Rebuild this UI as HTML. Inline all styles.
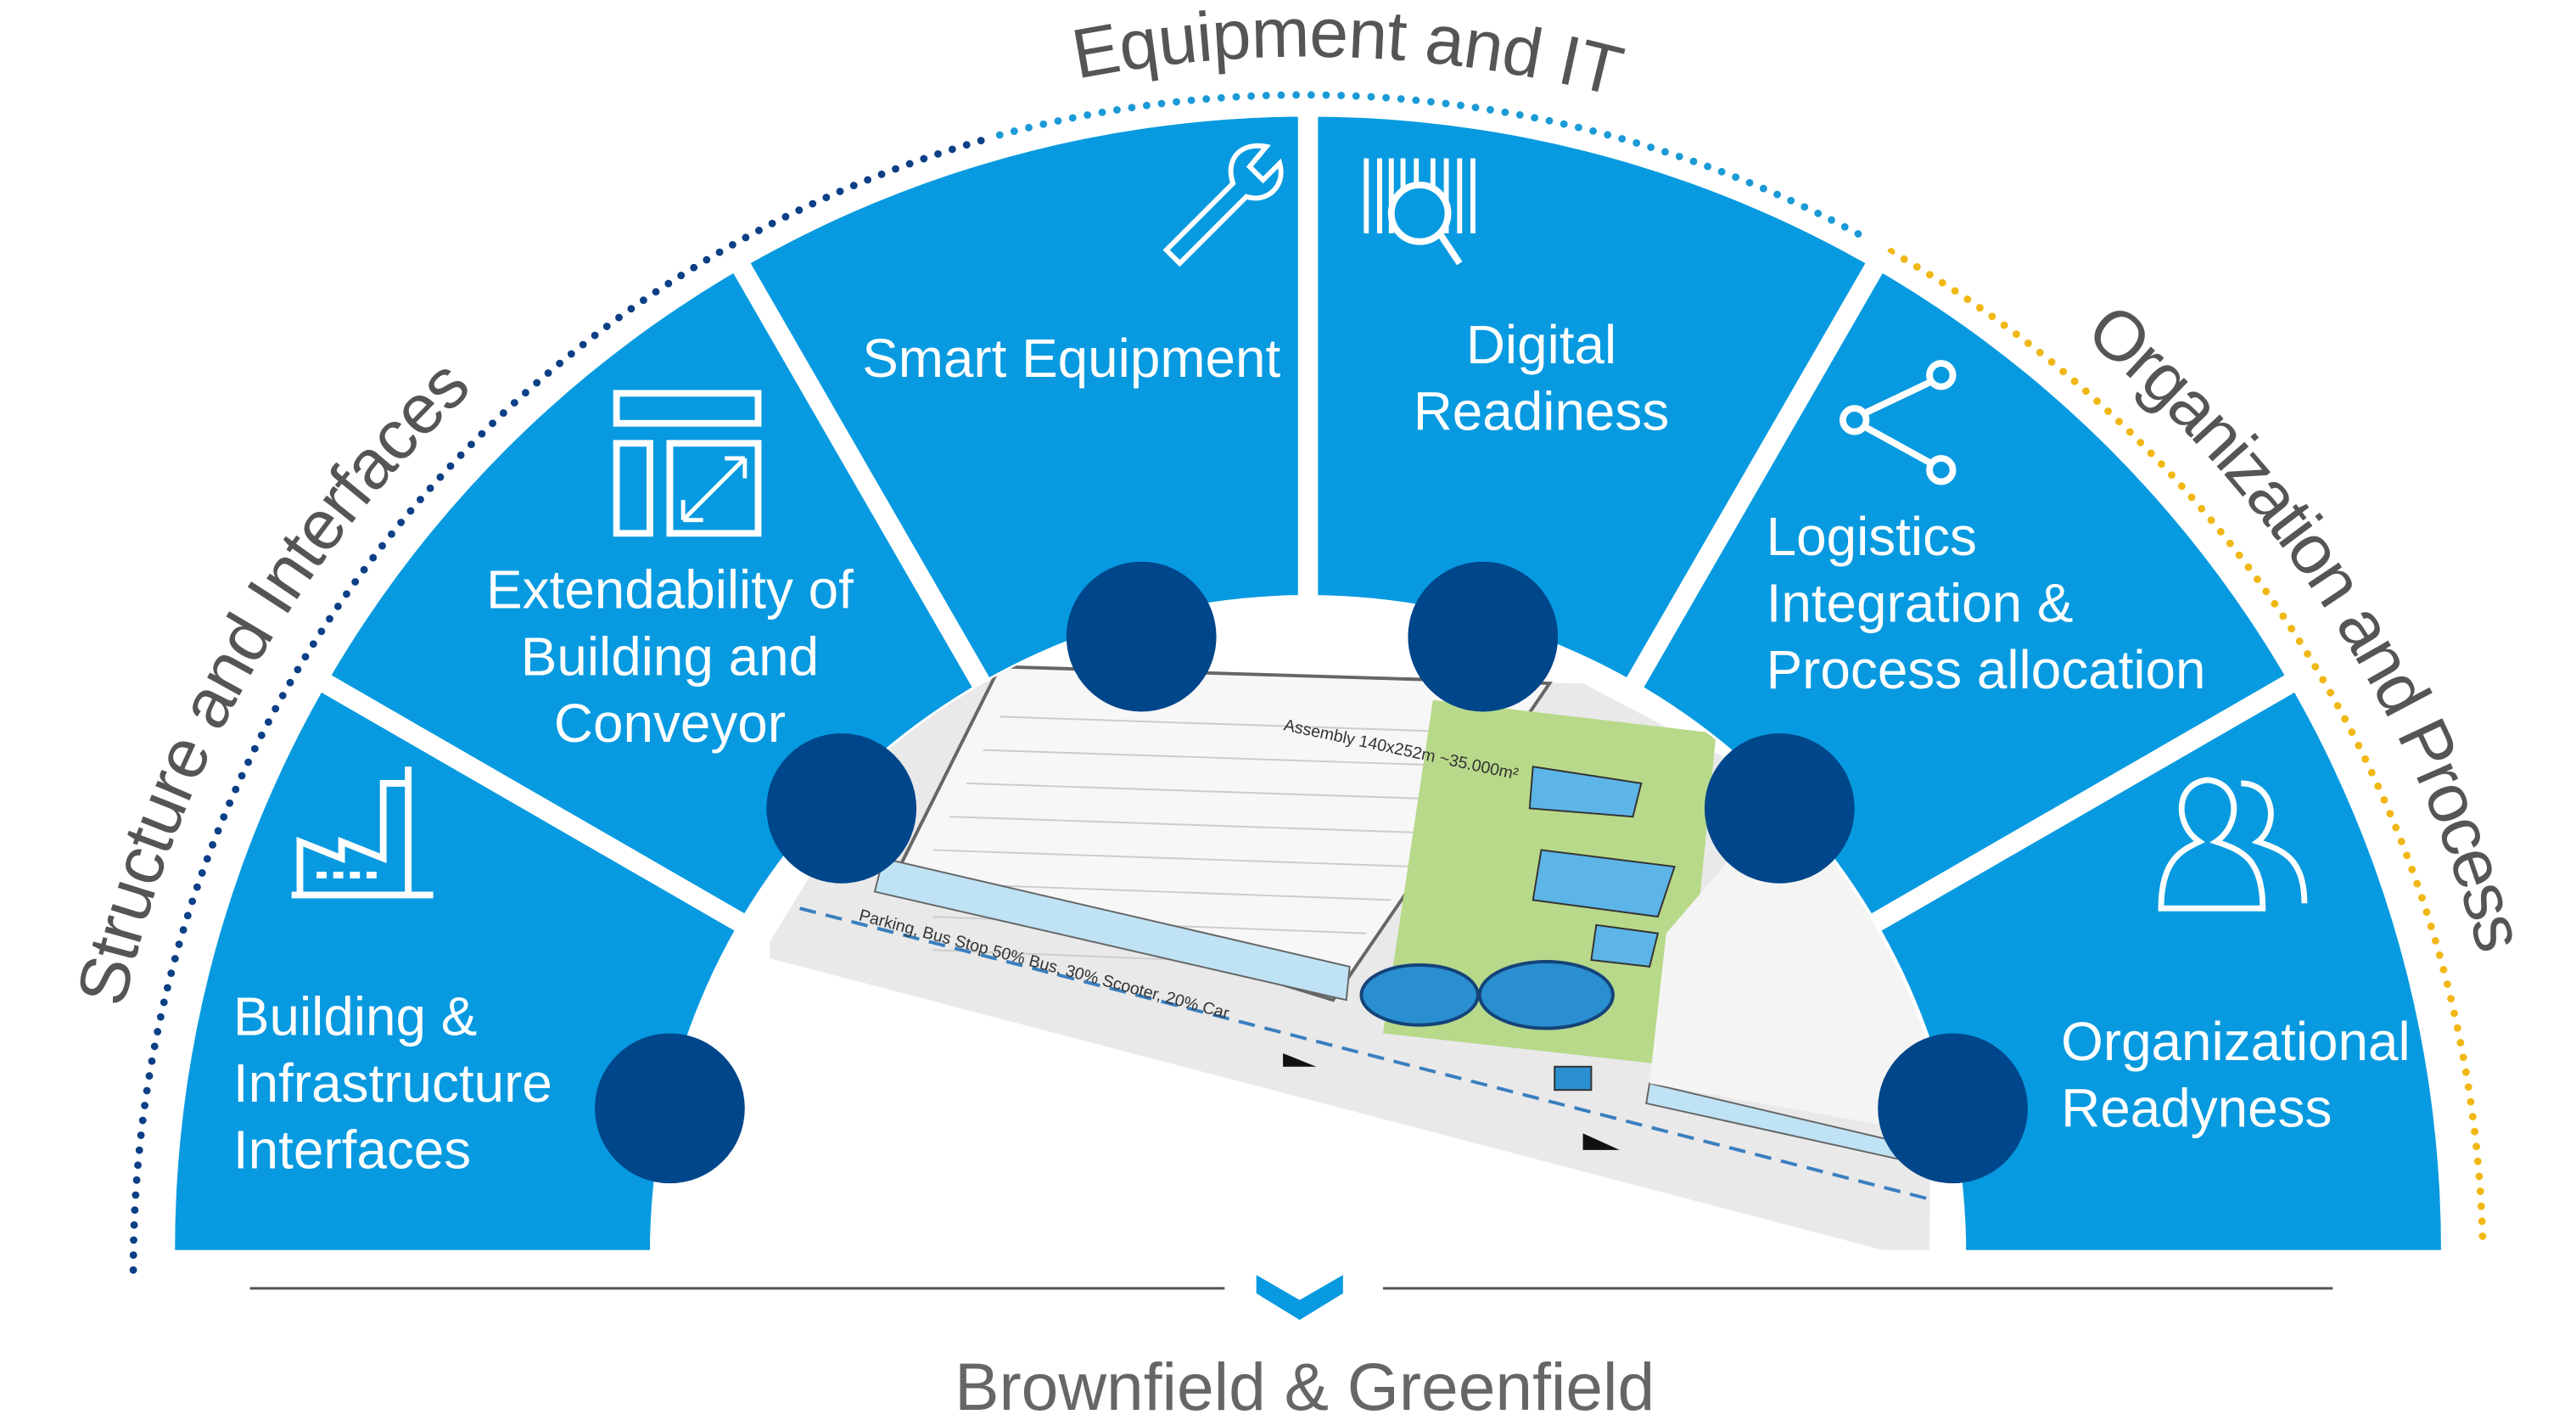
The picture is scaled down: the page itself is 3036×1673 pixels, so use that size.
<!DOCTYPE html>
<html><head><meta charset="utf-8"><style>html,body{margin:0;padding:0;background:#fff}svg{display:block}</style></head>
<body>
<svg width="3036" height="1673" viewBox="0 0 1546 852" preserveAspectRatio="none" xmlns="http://www.w3.org/2000/svg" font-family="Liberation Sans, sans-serif">
<defs>
<clipPath id="inner"><path d="M393 750 A392 392 0 0 1 1177 750 Z"/></clipPath>
<path id="tp" d="M57 762 A728 728 0 0 1 1513 762"/>
</defs>
<path d="M80 762 A705 705 0 0 1 590 84" fill="none" stroke="#0b3f86" stroke-width="4.5" stroke-linecap="round" stroke-dasharray="0 9"/>
<path d="M600 81 A705 705 0 0 1 1122 144" fill="none" stroke="#1a9ad6" stroke-width="4.5" stroke-linecap="round" stroke-dasharray="0 9"/>
<path d="M1135 151 A705 705 0 0 1 1490 745" fill="none" stroke="#f1b715" stroke-width="4.5" stroke-linecap="round" stroke-dasharray="0 9"/>
<text font-size="42" fill="#555"><textPath href="#tp" startOffset="158" textLength="433" lengthAdjust="spacing">Structure and Interfaces</textPath></text>
<text font-size="42" fill="#555"><textPath href="#tp" startOffset="1004" textLength="326" lengthAdjust="spacing">Equipment and IT</textPath></text>
<text font-size="42" fill="#555"><textPath href="#tp" startOffset="1648" textLength="448" lengthAdjust="spacing">Organization and Process</textPath></text>
<path d="M105 750 A680 680 0 0 1 1465 750 Z" fill="#079ae0"/>
<g stroke="#fff" stroke-width="12">
<line x1="785" y1="750" x2="185" y2="404"/>
<line x1="785" y1="750" x2="439" y2="150"/>
<line x1="785" y1="750" x2="785" y2="62"/>
<line x1="785" y1="750" x2="1131" y2="150"/>
<line x1="785" y1="750" x2="1385" y2="404"/>
</g>
<path d="M390 752 A395 395 0 0 1 1180 752 Z" fill="#fff"/>
<g clip-path="url(#inner)">
<polygon points="462,565 560,405 950,410 1160,520 1158,750 1130,750 462,575" fill="#e9e9e9"/>
<polygon points="540,520 600,400 930,410 800,600" fill="#f7f7f7" stroke="#666" stroke-width="2"/>
<g stroke="#ccc" stroke-width="1">
<line x1="600" y1="430" x2="900" y2="440"/><line x1="590" y1="450" x2="890" y2="460"/><line x1="580" y1="470" x2="880" y2="480"/><line x1="570" y1="490" x2="865" y2="500"/><line x1="560" y1="510" x2="850" y2="520"/><line x1="560" y1="530" x2="835" y2="540"/><line x1="560" y1="550" x2="820" y2="560"/><line x1="560" y1="570" x2="810" y2="580"/>
</g>
<polygon points="530,515 810,580 808,600 525,535" fill="#bfe3f5" stroke="#666"/>
<polygon points="860,420 1030,440 1010,640 830,620" fill="#b8d98a"/>
<polygon points="920,460 985,470 980,490 918,485" fill="#5db4e6" stroke="#333"/>
<polygon points="925,510 1005,520 995,550 920,540" fill="#5db4e6" stroke="#333"/>
<polygon points="958,555 995,560 990,580 955,576" fill="#5db4e6" stroke="#333"/>
<ellipse cx="852" cy="597" rx="35" ry="18" fill="#2a8fd0" stroke="#14437a" stroke-width="2"/>
<ellipse cx="928" cy="597" rx="40" ry="20" fill="#2a8fd0" stroke="#14437a" stroke-width="2"/>
<rect x="933" y="640" width="22" height="14" fill="#2a8fd0" stroke="#333"/>
<polygon points="990,650 1160,690 1160,700 988,662" fill="#bfe3f5" stroke="#666"/>
<polygon points="1000,560 1060,490 1160,520 1158,680 990,650" fill="#f4f4f4"/>
<line x1="480" y1="545" x2="1160" y2="720" stroke="#3a7fc0" stroke-width="2" stroke-dasharray="10 6"/>
<polygon points="770,632 790,640 770,640" fill="#111"/><polygon points="950,680 972,690 950,690" fill="#111"/>
<text x="770" y="438" font-size="10" fill="#333" transform="rotate(12 770 438)">Assembly 140x252m ~35.000m²</text>
<text x="515" y="552" font-size="10" fill="#333" transform="rotate(15 515 552)">Parking, Bus Stop 50% Bus, 30% Scooter, 20% Car</text>
</g>
<g fill="#00468b"><circle cx="402" cy="665" r="45"/><circle cx="505" cy="485" r="45"/><circle cx="685" cy="382" r="45"/><circle cx="890" cy="382" r="45"/><circle cx="1068" cy="485" r="45"/><circle cx="1172" cy="665" r="45"/></g>
<g fill="#fff" font-size="32.5">
<text x="643" y="226" text-anchor="middle">Smart Equipment</text>
<text x="925" y="218" text-anchor="middle">Digital</text><text x="925" y="258" text-anchor="middle">Readiness</text>
<text x="402" y="365" text-anchor="middle">Extendability of</text><text x="402" y="405" text-anchor="middle">Building and</text><text x="402" y="445" text-anchor="middle">Conveyor</text>
<text x="1060" y="333">Logistics</text><text x="1060" y="373">Integration &amp;</text><text x="1060" y="413">Process allocation</text>
<text x="140" y="621">Building &amp;</text><text x="140" y="661">Infrastructure</text><text x="140" y="701">Interfaces</text>
<text x="1237" y="636">Organizational</text><text x="1237" y="676">Readyness</text>
</g>
<g fill="none" stroke="#fff" stroke-width="4">
<path d="M175 537 L260 537 M180 537 L180 505 L205 515 L205 505 L230 515 L230 470 L245 470 L245 460 L245 537"/>
<path d="M190 525 h40" stroke-dasharray="6 4"/>
<rect x="370" y="236" width="85" height="18"/><rect x="370" y="266" width="20" height="54"/><rect x="402" y="266" width="53" height="54"/>
<path d="M410 312 L447 275 M447 275 h-12 M447 275 v12 M410 312 h12 M410 312 v-12" stroke-width="2.5"/>
<path d="M700 150 L740 110 C735 95 745 85 760 88 L750 100 L758 108 L768 98 C772 112 760 122 748 118 L708 158 Z" stroke-width="3"/>
<path d="M820 95 v45 M828 95 v45 M835 95 v45 M842 95 v45 M850 95 v45 M860 95 v45 M868 95 v45 M876 95 v45 M884 95 v45" stroke-width="3"/>
<circle cx="852" cy="128" r="17" fill="#079ae0"/><line x1="864" y1="140" x2="876" y2="158"/>
<circle cx="1113" cy="252" r="7"/><circle cx="1165" cy="225" r="7"/><circle cx="1165" cy="282" r="7"/>
<path d="M1119 248 L1159 229 M1119 256 L1159 278"/>
<path d="M1297 545 C1297 515 1310 510 1320 505 C1305 495 1305 470 1325 468 C1345 470 1345 495 1330 505 C1345 510 1358 515 1358 545 Z" stroke-width="3.5"/>
<path d="M1345 470 C1365 470 1368 495 1355 505 C1370 510 1383 515 1383 542" stroke-width="3.5"/>
</g>
<line x1="150" y1="773" x2="735" y2="773" stroke="#555" stroke-width="1.5"/>
<line x1="830" y1="773" x2="1400" y2="773" stroke="#555" stroke-width="1.5"/>
<path d="M754 765 L780 780 L806 765 L806 776 L780 792 L754 776 Z" fill="#079ae0"/>
<text x="783" y="846" text-anchor="middle" font-size="40" fill="#666">Brownfield &amp; Greenfield</text>
</svg>
</body></html>
